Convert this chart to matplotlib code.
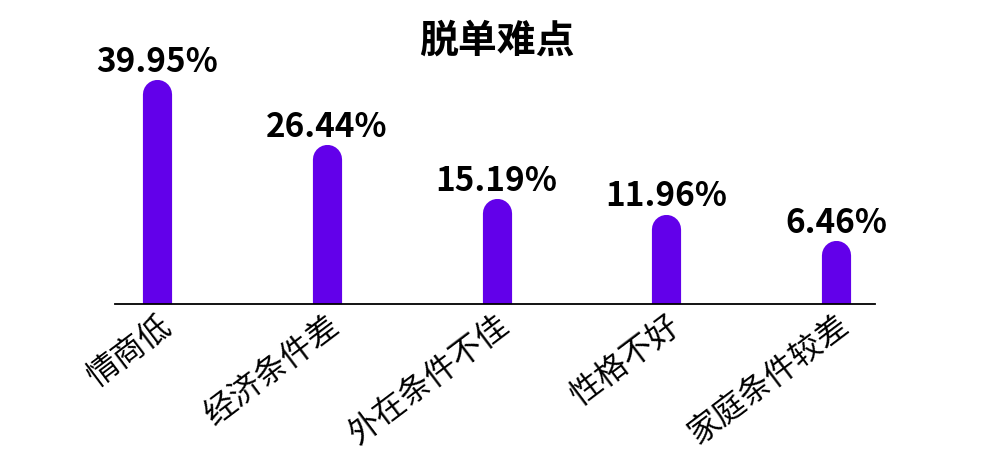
import matplotlib.pyplot as plt

plt.rcParams['font.family'] = ['Noto Sans CJK SC', 'DejaVu Sans']

categories = ['情商低', '经济条件差', '外在条件不佳', '性格不好', '家庭条件较差']
values = [39.95, 26.44, 15.19, 11.96, 6.46]
labels = ['39.95%', '26.44%', '15.19%', '11.96%', '6.46%']

color = '#6200EA'

fig = plt.figure(figsize=(9.97, 4.59), dpi=100)
ax = fig.add_axes([115 / 997, 155 / 459, 760 / 997, 244 / 459])

base = -3.8
x = list(range(len(categories)))
for xi, v, lab in zip(x, values, labels):
    # thick line with round cap -> rounded-top bar
    ax.plot([xi, xi], [base - 5, v], color=color, linewidth=21,
            solid_capstyle='round')
    ax.annotate(lab, (xi, v), xytext=(0, 11), textcoords='offset points',
                ha='center', va='bottom', fontsize=24, fontweight='bold',
                annotation_clip=False)

ax.set_xlim(-0.25, 4.23)
ax.set_ylim(base, base + 244 / 4.79)

for s in ['top', 'right', 'left']:
    ax.spines[s].set_visible(False)
ax.spines['bottom'].set_linewidth(1.3)
ax.set_yticks([])
ax.set_xticks(x)
ax.set_xticklabels(categories, rotation=37, ha='right', va='top',
                   rotation_mode='anchor', fontsize=23)
ax.tick_params(axis='x', length=0, pad=4)

fig.text(497 / 997, 1 - 41 / 459, '脱单难点', ha='center', va='center',
         fontsize=28, fontweight='bold')

fig.savefig('out.png', dpi=100)
